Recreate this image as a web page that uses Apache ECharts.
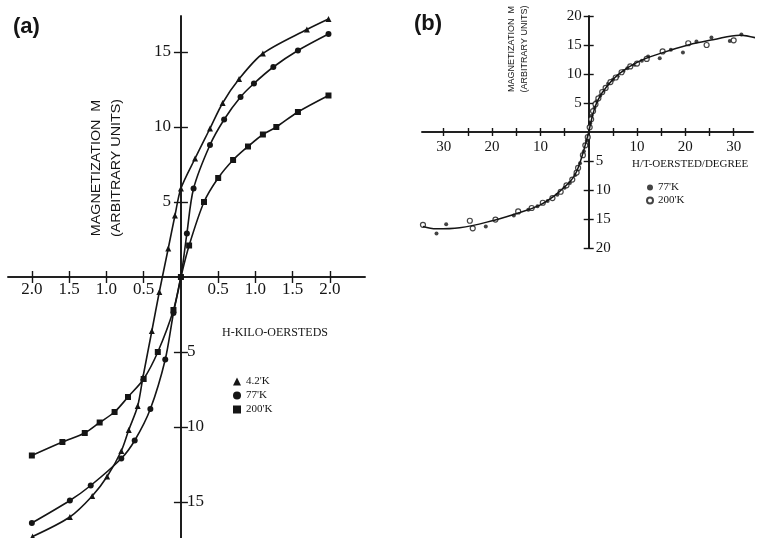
<!DOCTYPE html>
<html><head><meta charset="utf-8">
<script src="https://cdn.jsdelivr.net/npm/echarts@6/dist/echarts.min.js"></script>
<style>html,body{margin:0;padding:0;background:#fff}#c{width:758px;height:538px}</style>
</head><body><div id="c"></div>
<script>
// ---------- Panel (a): M vs H (kilo-oersteds) ----------
const aXTicks = [-2, -1.5, -1, -0.5, 0.5, 1, 1.5, 2];
const aYTicks = [-15, -10, -5, 5, 10, 15];
const aYLabelsPos = [5, 10, 15];
const aYLabelsNeg = [-15, -10, -5];
const a42K = [[-1.99,-17.3],[-1.49,-16.0],[-1.19,-14.6],[-0.99,-13.3],[-0.8,-11.6],[-0.7,-10.2],[-0.58,-8.6],[-0.51,-6.7],[-0.39,-3.6],[-0.29,-1.0],[-0.17,1.9],[-0.08,4.1],[0,5.9],[0.19,7.9],[0.39,9.9],[0.56,11.6],[0.78,13.2],[1.1,14.9],[1.69,16.5],[1.98,17.2]];
const a77K = [[-2.0,-16.4],[-1.49,-14.9],[-1.21,-13.9],[-0.8,-12.1],[-0.62,-10.9],[-0.41,-8.8],[-0.21,-5.5],[-0.1,-2.4],[0,0],[0.08,2.9],[0.17,5.9],[0.39,8.8],[0.58,10.5],[0.8,12.0],[0.98,12.9],[1.24,14.0],[1.57,15.1],[1.98,16.2]];
const a200K = [[-2.0,-11.9],[-1.59,-11.0],[-1.29,-10.4],[-1.09,-9.7],[-0.89,-9.0],[-0.71,-8.0],[-0.5,-6.8],[-0.31,-5.0],[-0.1,-2.2],[0,0],[0.11,2.1],[0.31,5.0],[0.5,6.6],[0.7,7.8],[0.9,8.7],[1.1,9.5],[1.28,10.0],[1.57,11.0],[1.98,12.1]];

// ---------- Panel (b): M vs H/T ----------
const bXTicks = [-30,-25,-20,-15,-10,-5,5,10,15,20,25,30];
const bXLabels = [-30,-20,-10,10,20,30];
const bYTicks = [-20,-15,-10,-5,5,10,15,20];
const bYLabelsPos = [5,10,15,20];
const bYLabelsNeg = [-20,-15,-10,-5];
const bCurve = [[-34.3,-16.3],[-31.5,-16.7],[-26.7,-16.5],[-19.5,-15.2],[-14.3,-13.9],[-10.1,-12.6],[-7.4,-11.2],[-5.3,-9.7],[-3.6,-8.3],[-2.5,-6.8],[-1.5,-4.5],[-0.8,-2.5],[0,0],[0.9,3.2],[1.9,5.5],[3.7,7.8],[6.4,10.1],[10.2,12.1],[15.0,13.6],[20.6,15.0],[25.7,15.9],[31.3,16.7],[34.7,16.2]];
const b77K = [[0.3,1.5],[0.6,2.8],[1.2,4.2],[1.6,5.3],[2.4,6.3],[3.0,7.0],[4.0,8.3],[5.0,9.0],[6.0,9.6],[7.2,10.5],[8.0,11.0],[9.5,11.6],[11.0,12.3],[12.3,13.0],[14.7,12.7],[17.0,14.2],[19.5,13.7],[22.3,15.6],[25.4,16.3],[29.2,15.7],[31.6,16.8],
  [-0.4,-1.5],[-1.0,-3.3],[-1.8,-5.4],[-2.8,-7.4],[-3.9,-8.8],[-5.0,-9.6],[-6.5,-10.8],[-8.5,-11.9],[-10.6,-12.8],[-12.5,-13.4],[-15.5,-14.4],[-21.3,-16.3],[-29.5,-15.9],[-31.5,-17.5]];
const b200K = [[0.2,0.8],[0.5,2.2],[0.9,3.6],[1.4,4.8],[2.0,5.8],[2.8,6.9],[3.5,7.6],[4.5,8.6],[5.6,9.4],[6.8,10.3],[8.6,11.3],[10.0,11.8],[12.0,12.6],[15.3,13.9],[20.6,15.3],[24.4,15.0],[30.0,15.8],[34.4,16.0],
  [-0.2,-0.9],[-0.7,-2.3],[-1.2,-4.0],[-2.2,-6.2],[-2.5,-7.0],[-3.4,-8.2],[-4.6,-9.2],[-5.8,-10.3],[-7.5,-11.4],[-9.5,-12.2],[-11.8,-13.1],[-14.6,-13.7],[-19.3,-15.1],[-24.0,-16.6],[-24.6,-15.3],[-34.3,-16.0]];

const legendNames = {a42:"4.2'K", a77:"77'K", a200:"200'K", b77:"77'K", b200:"200'K"};

const INK = '#151515';
const SERIF = '"Liberation Serif", "DejaVu Serif", serif';
const SANS = '"Liberation Sans", Arial, sans-serif';

function ax(grid, min, max, pos, ticks, labels, fmt, fs, tickLen, margin) {
  return {
    type: 'value', gridIndex: grid, min: min, max: max, position: pos, offset: 0,
    axisLine: {show: true, onZero: false, lineStyle: {color: INK, width: 1.6}},
    axisTick: {show: true, customValues: ticks, length: tickLen, lineStyle: {color: INK, width: 1.4}},
    axisLabel: labels ? {show: true, customValues: labels, formatter: fmt, color: INK, fontFamily: SERIF, fontSize: fs, margin: margin} : {show: false},
    splitLine: {show: false}
  };
}
const fmtA = v => Math.abs(v).toFixed(1);
const fmtAbs = v => String(Math.abs(v));

const grids = [
  {left: 8, top: 16, width: 357, height: 522, containLabel: false, outerBoundsMode: 'none'},
  {left: 422, top: 16, width: 331, height: 232, containLabel: false, outerBoundsMode: 'none'}
];

const option = {
  animation: false,
  backgroundColor: '#fff',
  grid: grids,
  xAxis: [
    ax(0, -2.32, 2.47, 'bottom', aXTicks, aXTicks, fmtA, 17, 6, 4),
    ax(0, -2.32, 2.47, 'top', aXTicks, null, null, 17, 6, 4),
    ax(1, -34.5, 34, 'bottom', bXTicks, bXLabels, fmtAbs, 15, 4, 8),
    ax(1, -34.5, 34, 'top', bXTicks, null, null, 15, 4, 6)
  ],
  yAxis: [
    ax(0, -17.4, 17.4, 'left', aYTicks, aYLabelsPos, fmtAbs, 17, 7, 10),
    ax(0, -17.4, 17.4, 'right', aYTicks, aYLabelsNeg, fmtAbs, 17, 7, 6),
    ax(1, -20, 20, 'left', bYTicks, bYLabelsPos, fmtAbs, 15, 5, 7),
    ax(1, -20, 20, 'right', bYTicks, bYLabelsNeg, fmtAbs, 15, 5, 7)
  ],
  legend: [
    {
      orient: 'vertical', left: 233, top: 376, padding: 0, itemGap: 3, itemWidth: 8, itemHeight: 8,
      selectedMode: false, formatter: n => legendNames[n],
      textStyle: {color: INK, fontFamily: SERIF, fontSize: 11},
      data: [{name: 'a42', icon: 'triangle'}, {name: 'a77', icon: 'circle'}, {name: 'a200', icon: 'rect'}]
    },
    {
      orient: 'vertical', left: 646, top: 182, padding: 0, itemGap: 2, itemWidth: 6, itemHeight: 6,
      selectedMode: false, formatter: n => legendNames[n],
      textStyle: {color: INK, fontFamily: SERIF, fontSize: 11},
      data: [{name: 'b77', icon: 'circle'}, {name: 'b200', icon: 'circle'}]
    }
  ],
  series: [
    {name: 'a42', type: 'line', xAxisIndex: 0, yAxisIndex: 0, data: a42K, smooth: 0.3,
     symbol: 'triangle', symbolSize: 6, itemStyle: {color: INK}, lineStyle: {color: INK, width: 1.6}},
    {name: 'a77', type: 'line', xAxisIndex: 0, yAxisIndex: 0, data: a77K, smooth: 0.3,
     symbol: 'circle', symbolSize: 6, itemStyle: {color: INK}, lineStyle: {color: INK, width: 1.6}},
    {name: 'a200', type: 'line', xAxisIndex: 0, yAxisIndex: 0, data: a200K, smooth: 0.3,
     symbol: 'rect', symbolSize: 6, itemStyle: {color: INK}, lineStyle: {color: INK, width: 1.6}},
    {name: 'bcurve', type: 'line', xAxisIndex: 2, yAxisIndex: 2, data: bCurve, smooth: 0.4,
     showSymbol: false, lineStyle: {color: INK, width: 1.5}},
    {name: 'b77', type: 'scatter', xAxisIndex: 2, yAxisIndex: 2, data: b77K,
     symbol: 'circle', symbolSize: 4, itemStyle: {color: INK}},
    {name: 'b200', type: 'scatter', xAxisIndex: 2, yAxisIndex: 2, data: b200K,
     symbol: 'circle', symbolSize: 5, itemStyle: {color: '#fff', borderColor: INK, borderWidth: 1.2}}
  ],
  graphic: [
    {type: 'text', x: 13, y: 27, style: {text: '(a)', font: 'bold 22px ' + SANS, fill: INK, textAlign: 'left', textVerticalAlign: 'middle'}},
    {type: 'text', x: 414, y: 24, style: {text: '(b)', font: 'bold 22px ' + SANS, fill: INK, textAlign: 'left', textVerticalAlign: 'middle'}},
    {type: 'text', x: 96, y: 168, rotation: Math.PI / 2, scaleX: 1.1, style: {text: 'MAGNETIZATION  M', font: '13px ' + SANS, fill: INK, textAlign: 'center', textVerticalAlign: 'middle'}},
    {type: 'text', x: 116, y: 168, rotation: Math.PI / 2, scaleX: 1.1, style: {text: '(ARBITRARY UNITS)', font: '13px ' + SANS, fill: INK, textAlign: 'center', textVerticalAlign: 'middle'}},
    {type: 'text', x: 222, y: 333, style: {text: 'H-KILO-OERSTEDS', font: '12px ' + SERIF, fill: INK, textAlign: 'left', textVerticalAlign: 'middle'}},
    {type: 'text', x: 512, y: 49, rotation: Math.PI / 2, style: {text: 'MAGNETIZATION  M', font: '9px ' + SANS, fill: INK, textAlign: 'center', textVerticalAlign: 'middle'}},
    {type: 'text', x: 525, y: 49, rotation: Math.PI / 2, style: {text: '(ARBITRARY UNITS)', font: '9px ' + SANS, fill: INK, textAlign: 'center', textVerticalAlign: 'middle'}},
    {type: 'text', x: 632, y: 164, style: {text: 'H/T-OERSTED/DEGREE', font: '11px ' + SERIF, fill: INK, textAlign: 'left', textVerticalAlign: 'middle'}}
  ]
};
const chart = echarts.init(document.getElementById('c'), null, {renderer: 'canvas'});
chart.setOption(option);

// Move each axis pair onto the other axis's zero, using the library's own scale
const axisOffsets = {xAxis: [], yAxis: []};
[0, 1].forEach(function (g) {
  const zero = chart.convertToPixel({xAxisIndex: g * 2, yAxisIndex: g * 2}, [0, 0]);
  const gr = grids[g];
  const gLeft = gr.left, gRight = gr.left + gr.width, gTop = gr.top, gBottom = gr.top + gr.height;
  axisOffsets.xAxis[g * 2] = {offset: -(gBottom - zero[1])};
  axisOffsets.xAxis[g * 2 + 1] = {offset: -(zero[1] - gTop)};
  axisOffsets.yAxis[g * 2] = {offset: -(zero[0] - gLeft)};
  axisOffsets.yAxis[g * 2 + 1] = {offset: -(gRight - zero[0])};
});
chart.setOption(axisOffsets);
</script>
</body></html>
